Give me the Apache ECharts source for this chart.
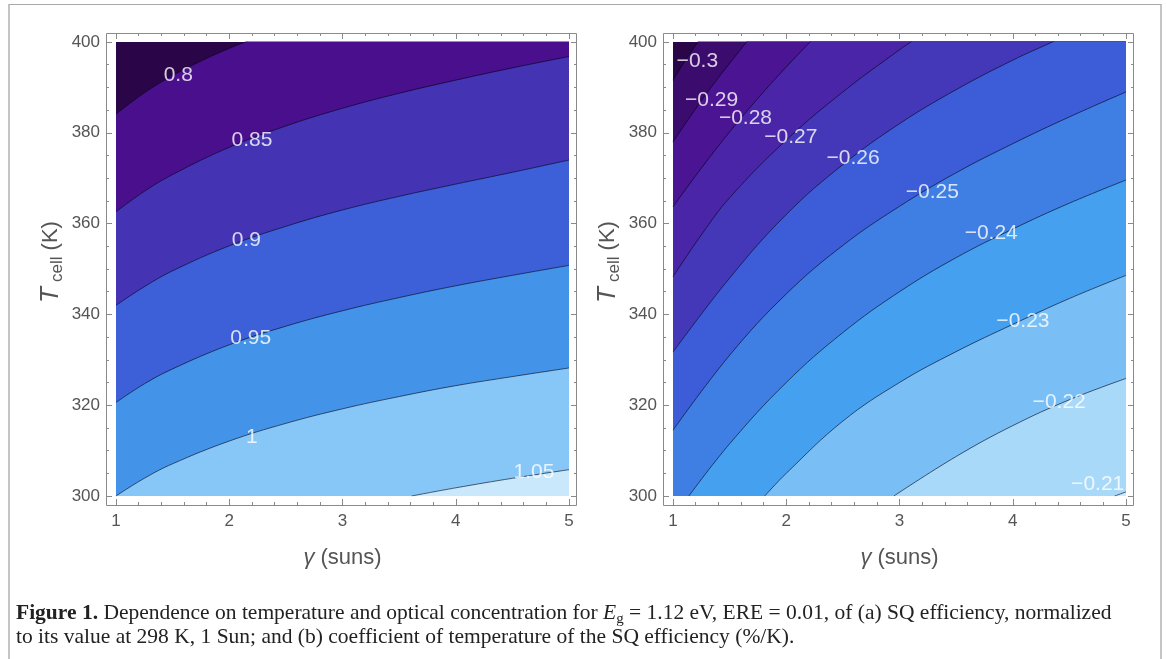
<!DOCTYPE html>
<html lang="en">
<head>
<meta charset="UTF-8">
<title>Figure 1</title>
<script src="https://cdn.jsdelivr.net/npm/echarts@6/dist/echarts.min.js"></script>
<style>
    body { margin: 0; background: #fff; }
    #box { position: absolute; left: 8px; top: 4px; width: 1150px; height: 720px;
           border-top: 1px solid #a8a8a8; border-left: 2px solid #c4c4c4; border-right: 2px solid #c4c4c4; }
    #chart { position: absolute; left: 0; top: 0; width: 1167px; height: 659px; }
    #caption { position: absolute; left: 16px; top: 600px; width: 1140px;
               font-family: "Liberation Serif", "Times New Roman", serif; font-size: 21.5px;
               line-height: 24px; color: #222; }
    #caption sub { font-size: 15px; vertical-align: -4px; line-height: 0; }
</style>
</head>
<body>
<div id="box"></div>
<div id="chart"></div>
<div id="caption"><b>Figure 1.</b> Dependence on temperature and optical concentration for <i>E</i><sub>g</sub> = 1.12 eV, ERE = 0.01, of (a) SQ efficiency, normalized<br>to its value at 298 K, 1 Sun; and (b) coefficient of temperature of the SQ efficiency (%/K).</div>
<script type="text/javascript">
    // (a) normalized SQ efficiency: contour lines as [gamma (suns), T (K)]
    var levelsA = ['0.8', '0.85', '0.9', '0.95', '1', '1.05'];
    var a080 = [[1, 384.1], [1.25, 388.8], [1.5, 392.6], [1.75, 395.8], [2, 398.6], [2.14, 400]];
    var a085 = [[1, 362.6], [1.25, 367.1], [1.5, 370.8], [2, 376.8], [2.5, 381.5], [3, 385.4], [3.5, 388.7], [4, 391.6], [4.5, 394.3], [5, 396.8]];
    var a090 = [[1, 342], [1.25, 346.1], [1.5, 349.6], [2, 355.1], [2.5, 359.4], [3, 363], [3.5, 366], [4, 368.7], [4.5, 371.3], [5, 374]];
    var a095 = [[1, 320.6], [1.25, 324.7], [1.5, 328], [2, 333.3], [2.5, 337.4], [3, 340.8], [3.5, 343.7], [4, 346.3], [4.5, 348.6], [5, 350.8]];
    var a100 = [[1, 300], [1.25, 303.9], [1.5, 307.1], [2, 312.1], [2.5, 316], [3, 319.2], [3.5, 321.9], [4, 324.3], [4.5, 326.3], [5, 328.2]];
    var a105 = [[3.61, 300], [4, 301.8], [4.5, 303.9], [5, 305.8]];
    var labelPosA = [[1.55, 392.7], [2.2, 378.4], [2.15, 356.4], [2.19, 334.7], [2.2, 313], [4.69, 305.3]];

    // (b) temperature coefficient (%/K)
    var levelsB = ['\u22120.3', '\u22120.29', '\u22120.28', '\u22120.27', '\u22120.26', '\u22120.25',
                   '\u22120.24', '\u22120.23', '\u22120.22', '\u22120.21'];
    var b030 = [[1, 391.6], [1.1, 395.6], [1.22, 400]];
    var b029 = [[1, 378], [1.2, 385.3], [1.4, 392.1], [1.65, 400]];
    var b028 = [[1, 363.7], [1.25, 372.2], [1.5, 380.2], [1.75, 387.6], [2, 394.5], [2.21, 400]];
    var b027 = [[1, 348.3], [1.25, 357.5], [1.5, 365.7], [2, 378.4], [2.5, 389], [3, 398.3], [3.1, 400]];
    var b026 = [[1, 331.7], [1.5, 348], [2, 362], [2.5, 373], [3, 382], [3.5, 389.5], [4, 396], [4.35, 400]];
    var b025 = [[1, 314.5], [1.5, 331], [2, 344.5], [2.5, 355.2], [3, 363.8], [3.5, 371.2], [4, 377.6], [4.5, 383.5], [5, 389]];
    var b024 = [[1.14, 300], [1.5, 311.5], [2, 325], [2.5, 336], [3, 345], [3.5, 352.5], [4, 358.8], [4.5, 364.5], [5, 369.6]];
    var b023 = [[1.81, 300], [2, 305], [2.5, 316.5], [3, 325], [3.5, 331.8], [4, 337.8], [4.5, 343.5], [5, 348.6]];
    var b022 = [[2.95, 300], [3.5, 308.7], [4, 315.5], [4.5, 321.2], [5, 325.9]];
    var b021 = [[4.9, 300], [5, 300.9]];
    var labelPosB = [[1.215, 395.8], [1.34, 387.2], [1.64, 383.2], [2.04, 379.1], [2.59, 374.4],
                     [3.29, 367], [3.81, 357.8], [4.09, 338.4], [4.41, 320.7], [4.75, 302.6]];

    // band colours, darkest (top left) first
    var bandsA = ['#2a0648', '#4a0f8c', '#4433b3', '#3d5fd8', '#4394e9', '#87c7f7', '#c9e8fc'];
    var bandsB = ['#2a0648', '#3b0b6d', '#4a1492', '#4a25a7', '#4538b8', '#3d5cd7',
                  '#3f7fe3', '#45a0ef', '#79bff6', '#a9d9f9', '#cdeafc'];

    var sans = '"Liberation Sans", Arial, sans-serif';
    var tickColor = '#8a8a8a';
    var textColor = '#555';
    var gridA = {left: 116, top: 42, width: 453, height: 454};
    var gridB = {left: 673, top: 42, width: 453, height: 454};

    function contourSeries(lines, bands, xi, yi) {
        return lines.map(function (pts, i) {
            var data = pts.slice();
            var n = pts.length;
            var last = pts[n - 1], prev = pts[n - 2];
            if (last[1] >= 400 && last[0] < 5) {
                // close the area above the visible window so the fill covers the top edge
                var rx = 2 * last[0] - prev[0], ry = 2 * last[1] - prev[1];
                data.push([rx, ry]);
                if (rx < 5) data.push([5, ry]);
            }
            return {
                type: 'line', xAxisIndex: xi, yAxisIndex: yi, data: data,
                smooth: 0.4, symbol: 'none', silent: true, animation: false,
                lineStyle: {color: 'rgba(0,0,25,0.6)', width: 1},
                areaStyle: {color: bands[i + 1], opacity: 1, origin: 'start'}
            };
        });
    }

    function labelSeries(pos, texts, xi, yi) {
        return {
            type: 'scatter', xAxisIndex: xi, yAxisIndex: yi, symbolSize: 0, silent: true,
            animation: false, z: 10,
            data: pos.map(function (p, i) { return [p[0], p[1], texts[i]]; }),
            label: {show: true, position: 'inside', color: '#fff', fontSize: 21, fontFamily: sans,
                    formatter: function (p) { return p.value[2]; }}
        };
    }

    var tick = {inside: true, length: 6, lineStyle: {color: tickColor}};
    function xAxes(g) {
        return [{
            type: 'value', gridIndex: g, min: 1, max: 5, interval: 1, position: 'bottom', offset: 9,
            axisLine: {show: false}, splitLine: {show: false}, axisTick: tick,
            minorTick: {show: true, splitNumber: 5, length: 3, lineStyle: {color: tickColor}},
            axisLabel: {margin: 8, color: textColor, fontSize: 17, fontFamily: sans},
            name: '{g|\u03b3} (suns)', nameLocation: 'middle', nameGap: 42,
            nameTextStyle: {color: textColor, fontSize: 22, fontFamily: sans,
                rich: {g: {fontStyle: 'italic', fontSize: 22, fontFamily: sans, color: textColor}}}
        }, {
            type: 'value', gridIndex: g, min: 1, max: 5, interval: 1, position: 'top', offset: 9,
            axisLine: {show: false}, splitLine: {show: false}, axisTick: tick,
            minorTick: {show: true, splitNumber: 5, length: 3, lineStyle: {color: tickColor}},
            axisLabel: {show: false}
        }];
    }
    function yAxes(g) {
        return [{
            type: 'value', gridIndex: g, min: 300, max: 400, interval: 20, position: 'left', offset: 10,
            axisLine: {show: false}, splitLine: {show: false}, axisTick: tick,
            minorTick: {show: true, splitNumber: 4, length: 3, lineStyle: {color: tickColor}},
            axisLabel: {margin: 6, color: textColor, fontSize: 17, fontFamily: sans},
            name: '{t|T}{s|cell} (K)', nameLocation: 'middle', nameGap: 40,
            nameTextStyle: {color: textColor, fontSize: 22, fontFamily: sans,
                rich: {
                    t: {fontStyle: 'italic', fontSize: 26, fontFamily: sans, color: textColor, padding: [0, 5, 0, 14]},
                    s: {fontSize: 17, fontFamily: sans, color: textColor, padding: [13, 0, 0, 0]}
                }}
        }, {
            type: 'value', gridIndex: g, min: 300, max: 400, interval: 20, position: 'right', offset: 8,
            axisLine: {show: false}, splitLine: {show: false}, axisTick: tick,
            minorTick: {show: true, splitNumber: 4, length: 3, lineStyle: {color: tickColor}},
            axisLabel: {show: false}
        }];
    }

    function frame(g) {
        return {
            type: 'rect', silent: true, z: 20,
            shape: {x: g.left - 9.5, y: g.top - 8.5, width: g.width + 17, height: g.height + 18},
            style: {fill: null, stroke: tickColor, lineWidth: 1}
        };
    }

    var chart = echarts.init(document.getElementById('chart'));
    chart.setOption({
        animation: false,
        grid: [
            Object.assign({show: true, backgroundColor: bandsA[0], borderWidth: 0, outerBoundsMode: 'none', containLabel: false}, gridA),
            Object.assign({show: true, backgroundColor: bandsB[0], borderWidth: 0, outerBoundsMode: 'none', containLabel: false}, gridB)
        ],
        xAxis: xAxes(0).concat(xAxes(1)),
        yAxis: yAxes(0).concat(yAxes(1)),
        graphic: [frame(gridA), frame(gridB)],
        series: []
            .concat(contourSeries([a080, a085, a090, a095, a100, a105], bandsA, 0, 0))
            .concat(contourSeries([b030, b029, b028, b027, b026, b025, b024, b023, b022, b021], bandsB, 2, 2))
            .concat([labelSeries(labelPosA, levelsA, 0, 0), labelSeries(labelPosB, levelsB, 2, 2)])
    });
</script>
</body>
</html>
